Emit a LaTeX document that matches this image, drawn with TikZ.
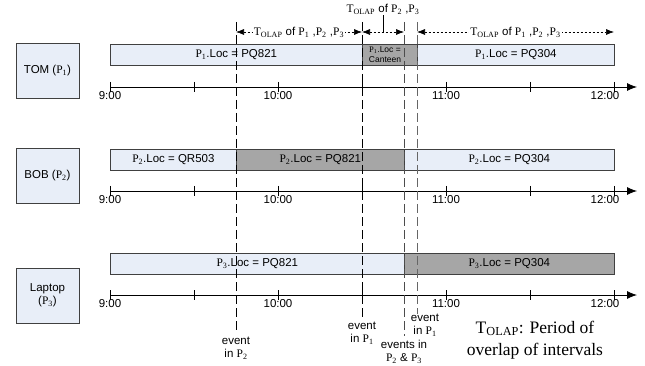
\documentclass[tikz,border=0pt]{standalone}
\usepackage{fontspec}
\setmainfont{Liberation Sans}
\newfontfamily\serf{Liberation Serif}
\usetikzlibrary{arrows.meta}
\newcommand\Pn[1]{{\serf P\textsubscript{#1}}}
\newcommand\Tol{{\serf T\textsubscript{OLAP}}}
\definecolor{lightfill}{HTML}{E8EEF8}
\definecolor{darkfill}{HTML}{A6A6A6}
\begin{document}
\begin{tikzpicture}[x=1pt,y=-1pt,
  font=\fontsize{11.5}{13}\selectfont,
  person/.style={draw=black!75, fill=lightfill, minimum width=63pt, minimum height=55pt, inner sep=1pt, align=center, line width=0.8pt},
  seg/.style={draw=black!75, minimum height=21pt, inner sep=0pt, anchor=west, line width=0.7pt},
  lightseg/.style={seg, fill=lightfill},
  darkseg/.style={seg, fill=darkfill},
  timeaxis/.style={line width=0.8pt, -{Latex[length=10pt,width=8pt]}},
  tickmark/.style={line width=0.7pt},
  timelbl/.style={inner sep=0pt},
  evline/.style={line width=0.9pt, dash pattern=on 9pt off 4pt},
  olap/.style={line width=0.6pt, dash pattern=on 2.5pt off 1.5pt, {Latex[length=8pt,width=6pt]}-{Latex[length=8pt,width=6pt]}},
  olaplbl/.style={fill=white, inner sep=1pt},
  evlbl/.style={inner sep=0pt, align=center, font=\fontsize{11.5}{13}\selectfont}
]
\useasboundingbox (0,0) rectangle (645,366);

% person boxes
\node[person] (tom) at (47.5,70.5) {TOM (\Pn1)};
\node[person] (bob) at (47.5,175.5) {BOB (\Pn2)};
\node[person] (lap) at (47.5,295.5) {Laptop\\(\Pn3)};

% row 1 bars
\node[lightseg, minimum width=252pt] (t1a) at (110,54.5) {\Pn1.Loc = PQ821};
\node[darkseg, minimum width=55pt] (t1b) at (362,54.5) {};
\node[inner sep=0pt, align=center, font=\fontsize{8.5}{9.5}\selectfont] (t1bl) at (385,54.5) {\Pn1.Loc =\\Canteen};
\node[lightseg, minimum width=197pt] (t1c) at (417,54.5) {\Pn1.Loc = PQ304};

% row 2 bars
\node[lightseg, minimum width=126pt] (t2a) at (110,159.5) {\Pn2.Loc = QR503};
\node[darkseg, minimum width=168pt] (t2b) at (236,159.5) {\Pn2.Loc = PQ821};
\node[lightseg, minimum width=210pt] (t2c) at (404,159.5) {\Pn2.Loc = PQ304};

% row 3 bars
\node[lightseg, minimum width=294pt] (t3a) at (110,263.5) {\Pn3.Loc = PQ821};
\node[darkseg, minimum width=210pt] (t3b) at (404,263.5) {\Pn3.Loc = PQ304};

% axes
\foreach \r/\y in {1/87,2/191,3/295}{
  \coordinate (ax\r s) at (110,\y);
  \coordinate (ax\r e) at (637,\y);
  \draw[timeaxis] (ax\r s) -- (ax\r e);
  \foreach \x in {110,194,278,362,446,530,614}
    \draw[tickmark] (\x,\y-5) -- (\x,\y+5);
  \node[timelbl] (h9-\r) at (110,\y+8.5) {9:00};
  \node[timelbl] (h10-\r) at (278,\y+8.5) {10:00};
  \node[timelbl] (h11-\r) at (446,\y+8.5) {11:00};
  \node[timelbl] (h12-\r) at (605,\y+8.5) {12:00};
}

% event lines
\coordinate (vAt) at (236,22); \coordinate (vAb) at (236,332);
\coordinate (vBt) at (362,22); \coordinate (vBb) at (362,320);
\coordinate (vCt) at (404,22); \coordinate (vCb) at (404,336);
\coordinate (vDt) at (417,22); \coordinate (vDb) at (417,314);
\draw[evline, black] (vAt) -- (vAb);
\draw[evline, black] (vBt) -- (vBb);
\draw[evline, black!70] (vCt) -- (vCb);
\draw[evline, black!60] (vDt) -- (vDb);

% event labels
\node[evlbl] (eA) at (236,348) {event\\in \Pn2};
\node[evlbl] (eB) at (362,333) {event\\in \Pn1};
\node[evlbl] (eC) at (404,352) {events in\\\Pn2 \& \Pn3};
\node[evlbl] (eD) at (425,325) {event\\in \Pn1};

% overlap arrows
\coordinate (oA) at (236,32);
\coordinate (oB) at (362,32);
\coordinate (oC) at (404,32);
\coordinate (oD) at (417,32);
\coordinate (oE) at (614,32);
\draw[olap] (oA) -- node[olaplbl] (olA) {\Tol{} of \Pn1 ,\Pn2 ,\Pn3} (oB);
\draw[olap] (oB) -- (oC);
\draw[olap] (oD) -- node[olaplbl] (olD) {\Tol{} of \Pn1 ,\Pn2 ,\Pn3} (oE);
\node[inner sep=1pt] (olM) at (383,9) {\Tol{} of \Pn2 ,\Pn3};
\coordinate (mc) at (383,32);
\draw[line width=0.6pt] (olM.south) -- (mc);

% legend
\node[align=center, inner sep=0pt, font=\serf\fontsize{17.5}{22}\selectfont] (legend) at (535,340) {T\textsubscript{OLAP}: Period of\\overlap of intervals};
\end{tikzpicture}
\end{document}
